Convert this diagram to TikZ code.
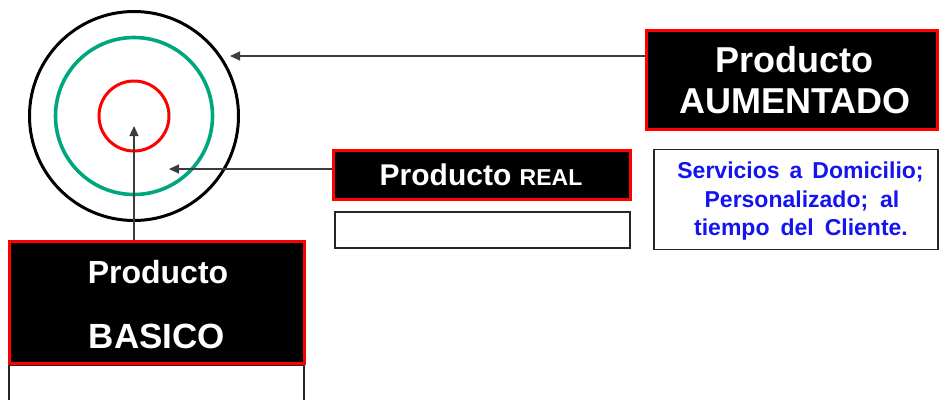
\documentclass[tikz,border=0pt]{standalone}
\usepackage{fontspec}
\setmainfont{Liberation Sans}
\usetikzlibrary{arrows.meta}
\definecolor{ringgreen}{RGB}{0,166,126}
\definecolor{arrowgray}{RGB}{60,60,60}
\definecolor{descblue}{RGB}{20,20,240}
\begin{document}
\begin{tikzpicture}[x=1pt,y=-1pt,
  darkbox/.style={draw=red,fill=black,line width=3pt,inner sep=0pt},
  emptybox/.style={draw=black!85,line width=1.5pt,fill=white,inner sep=0pt},
  wtext/.style={text=white,font=\bfseries,anchor=base,inner sep=0pt},
  btext/.style={text=descblue,font=\bfseries\fontsize{23}{29}\selectfont,anchor=base,inner sep=0pt},
  conn/.style={draw=arrowgray,line width=1.2pt,-{Triangle[length=10pt,width=9pt]}},
  ring/.style={line width=3pt}
]
\useasboundingbox (0,0) rectangle (939,399);
\clip (0,0) rectangle (939,399);
% rings
\draw[ring,black] (134,116) circle[radius=104.5];
\draw[ring,ringgreen,line width=3.6pt] (134,116) circle[radius=78.5];
\draw[ring,red] (134,116) circle[radius=35];
% boxes
\node[darkbox,minimum width=291pt,minimum height=99pt] (aum) at (792,79.5) {};
\node[emptybox,minimum width=284pt,minimum height=100pt] (desc) at (796,199.5) {};
\node[darkbox,minimum width=296.5pt,minimum height=49pt] (real) at (481.75,175) {};
\node[emptybox,minimum width=295pt,minimum height=36pt] (realx) at (482.5,230) {};
\node[emptybox,minimum width=295pt,minimum height=60pt] (basx) at (156.5,395) {};
\node[darkbox,minimum width=295pt,minimum height=122pt] (bas) at (157,302.5) {};
% texts
\node[wtext,font=\bfseries\fontsize{36}{40}\selectfont] (aum1) at (794,72) {Producto};
\node[wtext,font=\bfseries\fontsize{36}{40}\selectfont] (aum2) at (795,113) {AUMENTADO};
\node[wtext] (real1) at (481,185) {\fontsize{30}{34}\selectfont Producto \fontsize{23}{26}\selectfont REAL};
\node[wtext,font=\bfseries\fontsize{32}{36}\selectfont] (bas1) at (158,283) {Producto};
\node[wtext,font=\bfseries\fontsize{35}{40}\selectfont] (bas2) at (157,348) {BASICO};
\node[btext] (d1) at (800.5,178) {Servicios\hspace{10pt}a\hspace{10pt}Domicilio;};
\node[btext] (d2) at (802,207) {Personalizado;\hspace{12pt}al};
\node[btext] (d3) at (801,235) {tiempo\hspace{11pt}del\hspace{11pt}Cliente.};
% connectors
\coordinate (t1) at (230,56);
\coordinate (t2) at (169,169);
\coordinate (t3) at (134,126);
\draw[conn] (aum.west |- t1) -- (t1);
\draw[conn] (real.west |- t2) -- (t2);
\draw[conn] (bas.north -| t3) -- (t3);
\end{tikzpicture}
\end{document}
